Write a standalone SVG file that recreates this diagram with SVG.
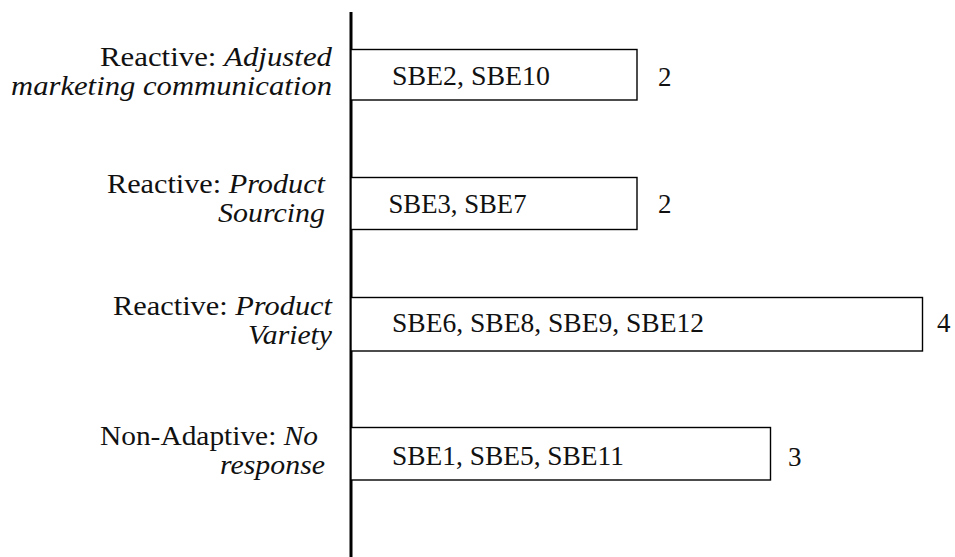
<svg xmlns="http://www.w3.org/2000/svg" width="955" height="557" viewBox="0 0 955 557">
  <style>
    .bg { fill: #ffffff; }
    .axis { stroke: #000000; stroke-width: 3; fill: none; }
    .bar { fill: #ffffff; stroke: #000000; stroke-width: 1.4; }
    text { font-family: "Liberation Serif", "Times New Roman", Times, Tinos, "Nimbus Roman", "Nimbus Roman No9 L", FreeSerif, "DejaVu Serif", "Noto Serif", Georgia, serif; fill: #111111; }
    .lbl { font-size: 28px; text-anchor: end; }
    .it { font-style: italic; }
    .cases { font-size: 27px; }
    .count { font-size: 27px; }
  </style>
  <rect class="bg" x="0" y="0" width="955" height="557"/>

  <!-- vertical axis -->
  <g id="axis">
    <line class="axis" x1="351" y1="12" x2="351" y2="557"/>
  </g>

  <!-- category labels -->
  <g id="label-marketing">
    <text class="lbl" x="332" y="66" textLength="232" lengthAdjust="spacingAndGlyphs">Reactive: <tspan class="it">Adjusted</tspan></text>
    <text class="lbl it" x="332" y="95" textLength="321" lengthAdjust="spacingAndGlyphs">marketing communication</text>
  </g>
  <g id="label-sourcing">
    <text class="lbl" x="325" y="193" textLength="218" lengthAdjust="spacingAndGlyphs">Reactive: <tspan class="it">Product</tspan></text>
    <text class="lbl it" x="325" y="222" textLength="107" lengthAdjust="spacingAndGlyphs">Sourcing</text>
  </g>
  <g id="label-variety">
    <text class="lbl" x="332" y="315" textLength="219" lengthAdjust="spacingAndGlyphs">Reactive: <tspan class="it">Product</tspan></text>
    <text class="lbl it" x="332" y="344" textLength="84" lengthAdjust="spacingAndGlyphs">Variety</text>
  </g>
  <g id="label-none">
    <text class="lbl" x="318" y="445" textLength="218" lengthAdjust="spacingAndGlyphs">Non-Adaptive: <tspan class="it">No</tspan></text>
    <text class="lbl it" x="325" y="474" textLength="105" lengthAdjust="spacingAndGlyphs">response</text>
  </g>

  <!-- bars -->
  <g id="bar-marketing">
    <rect class="bar" x="351" y="49.5" width="286" height="50.5"/>
    <text class="cases" x="392" y="85" textLength="158" lengthAdjust="spacingAndGlyphs">SBE2, SBE10</text>
    <text class="count" x="658" y="86">2</text>
  </g>
  <g id="bar-sourcing">
    <rect class="bar" x="351" y="177.5" width="286" height="52"/>
    <text class="cases" x="388.5" y="213" textLength="138" lengthAdjust="spacingAndGlyphs">SBE3, SBE7</text>
    <text class="count" x="658" y="213">2</text>
  </g>
  <g id="bar-variety">
    <rect class="bar" x="351" y="297.5" width="571.5" height="53.5"/>
    <text class="cases" x="392" y="332" textLength="312" lengthAdjust="spacingAndGlyphs">SBE6, SBE8, SBE9, SBE12</text>
    <text class="count" x="937" y="332">4</text>
  </g>
  <g id="bar-none">
    <rect class="bar" x="351" y="427.5" width="419.5" height="52.5"/>
    <text class="cases" x="392" y="465" textLength="232" lengthAdjust="spacingAndGlyphs">SBE1, SBE5, SBE11</text>
    <text class="count" x="788" y="466">3</text>
  </g>
</svg>
